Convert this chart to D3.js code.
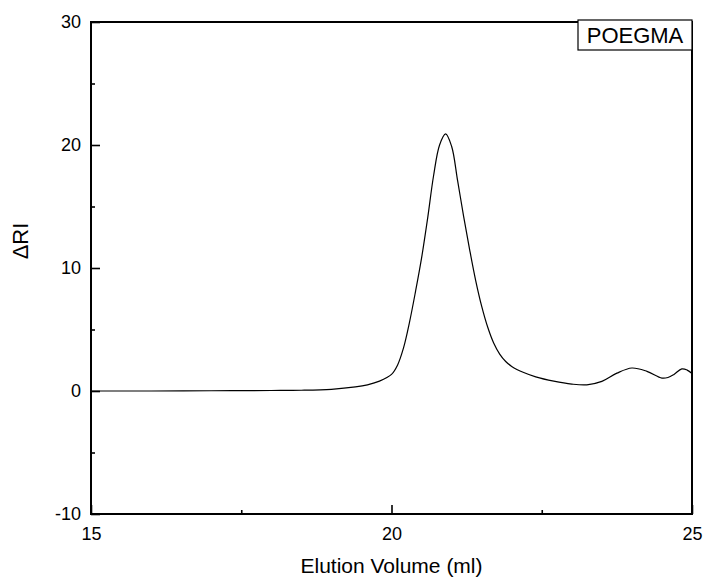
<!DOCTYPE html>
<html>
<head>
<meta charset="utf-8">
<script src="https://cdn.jsdelivr.net/npm/d3@7"></script>
<style>
  body { margin: 0; background: #fff; }
  text { font-family: Arial, "Liberation Sans", sans-serif; fill: #000; }
</style>
</head>
<body>
<div id="chart"></div>
<script>
// Elution volume (ml) readings
var volume = [15.0, 16.0, 17.0, 18.0, 18.5, 19.0, 19.4, 19.6, 19.8, 20.0, 20.1, 20.2, 20.3, 20.4,
  20.5, 20.6, 20.7, 20.8, 20.9, 21.0, 21.1, 21.2, 21.3, 21.4, 21.5, 21.6, 21.7, 21.8, 21.9,
  22.0, 22.2, 22.4, 22.7, 23.0, 23.25, 23.5, 23.75, 24.0, 24.25, 24.5, 24.6, 24.7, 24.83, 24.92, 25.0];

// Delta RI signal
var signal = [0.0, 0.0, 0.02, 0.04, 0.06, 0.14, 0.33, 0.5, 0.8, 1.35, 2.1, 3.5, 5.6, 8.1,
  10.8, 14.0, 17.5, 20.0, 20.9, 19.9, 17.1, 14.2, 11.5, 9.0, 6.9, 5.2, 3.9, 3.0, 2.4,
  2.0, 1.5, 1.15, 0.8, 0.56, 0.5, 0.78, 1.45, 1.87, 1.6, 1.05, 1.1, 1.35, 1.8, 1.7, 1.42];

var xMajor = [15, 20, 25];
var xMinor = [17.5, 22.5];
var yMajor = [-10, 0, 10, 20, 30];
var yMinor = [-5, 5, 15, 25];
var legendLabel = "POEGMA";

// Define svg dimensions
var svgWidth = 705;
var svgHeight = 579;

var chartMargin = { top: 22, right: 13, bottom: 65, left: 91 };
var chartWidth = svgWidth - chartMargin.left - chartMargin.right;
var chartHeight = svgHeight - chartMargin.top - chartMargin.bottom;

var svg = d3.select("#chart")
  .append("svg")
  .attr("width", svgWidth)
  .attr("height", svgHeight);

var chartGroup = svg.append("g")
  .attr("transform", `translate(${chartMargin.left}, ${chartMargin.top})`);

var xScale = d3.scaleLinear().domain([15, 25]).range([0, chartWidth]);
var yScale = d3.scaleLinear().domain([-10, 30]).range([chartHeight, 0]);

var data = volume.map((v, i) => ({ v: v, s: signal[i] }));

// Curve
var line = d3.line()
  .x(d => xScale(d.v))
  .y(d => yScale(d.s))
  .curve(d3.curveCatmullRom.alpha(0.5));

chartGroup.append("path")
  .datum(data)
  .attr("d", line)
  .attr("fill", "none")
  .attr("stroke", "#000")
  .attr("stroke-width", 1.2);

// plain hyphen for negatives, like the original
var fmt = d => String(d);

// Bottom axis: inward ticks
var bottomAxis = d3.axisBottom(xScale).tickValues(xMajor).tickSizeInner(-9).tickSizeOuter(0)
  .tickFormat(fmt).tickPadding(13);
var xAxis = chartGroup.append("g")
  .attr("transform", `translate(0, ${chartHeight})`)
  .call(bottomAxis);

chartGroup.append("g")
  .attr("transform", `translate(0, ${chartHeight})`)
  .call(d3.axisBottom(xScale).tickValues(xMinor).tickSizeInner(-4).tickSizeOuter(0).tickFormat(""))
  .call(g => g.select(".domain").remove());

// Left axis: inward ticks
var leftAxis = d3.axisLeft(yScale).tickValues(yMajor).tickSizeInner(-9).tickSizeOuter(0)
  .tickFormat(fmt).tickPadding(10);
var yAxis = chartGroup.append("g").call(leftAxis);

chartGroup.append("g")
  .call(d3.axisLeft(yScale).tickValues(yMinor).tickSizeInner(-4).tickSizeOuter(0).tickFormat(""))
  .call(g => g.select(".domain").remove());

svg.selectAll(".tick line").attr("stroke", "#000").attr("stroke-width", 1.6);
svg.selectAll(".tick text").attr("font-size", "18px").attr("font-family", "Arial, 'Liberation Sans', sans-serif");
svg.selectAll(".domain").remove();

// Frame
chartGroup.append("rect")
  .attr("x", 0).attr("y", 0)
  .attr("width", chartWidth).attr("height", chartHeight)
  .attr("fill", "none")
  .attr("stroke", "#000")
  .attr("stroke-width", 2);

// Legend box
var legend = chartGroup.append("g")
  .attr("transform", `translate(${chartWidth - 114}, -2)`);
legend.append("rect")
  .attr("width", 114).attr("height", 30)
  .attr("fill", "#fff")
  .attr("stroke", "#000")
  .attr("stroke-width", 1.2);
legend.append("text")
  .attr("x", 57).attr("y", 23)
  .attr("text-anchor", "middle")
  .attr("font-size", "22px")
  .text(legendLabel);

// Axis titles
svg.append("text")
  .attr("x", chartMargin.left + chartWidth / 2)
  .attr("y", 573)
  .attr("text-anchor", "middle")
  .attr("font-size", "21px")
  .text("Elution Volume (ml)");

svg.append("text")
  .attr("transform", "translate(28, 241) rotate(-90)")
  .attr("text-anchor", "middle")
  .attr("font-size", "22px")
  .text("\u0394RI");
</script>
</body>
</html>
